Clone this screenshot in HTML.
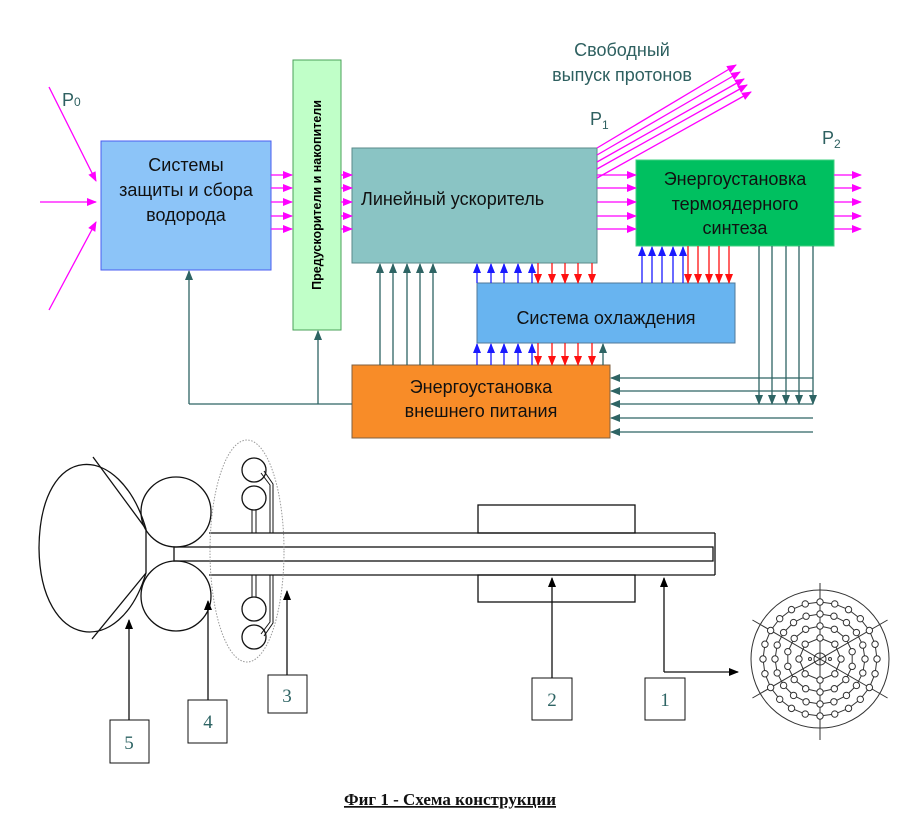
<!DOCTYPE html>
<html><head><meta charset="utf-8"><style>
html,body{margin:0;padding:0;background:#fff}
svg{display:block}
text{font-family:"Liberation Sans","DejaVu Sans",sans-serif}
text.serif{font-family:"Liberation Serif",serif}
</style></head><body>
<svg id="s" width="919" height="835" viewBox="0 0 919 835" xmlns="http://www.w3.org/2000/svg">
<defs>
<marker id="mm" markerWidth="10" markerHeight="10" refX="9" refY="5" orient="auto" markerUnits="userSpaceOnUse"><path d="M0,1 L10,5 L0,9 z" fill="#ff00ff"/></marker>
<marker id="mt" markerWidth="10" markerHeight="10" refX="9" refY="5" orient="auto" markerUnits="userSpaceOnUse"><path d="M0,1 L10,5 L0,9 z" fill="#2e6464"/></marker>
<marker id="mb" markerWidth="10" markerHeight="10" refX="9" refY="5" orient="auto" markerUnits="userSpaceOnUse"><path d="M0,1 L10,5 L0,9 z" fill="#1a1aff"/></marker>
<marker id="mr" markerWidth="10" markerHeight="10" refX="9" refY="5" orient="auto" markerUnits="userSpaceOnUse"><path d="M0,1 L10,5 L0,9 z" fill="#ff1010"/></marker>
<marker id="mk" markerWidth="10" markerHeight="10" refX="9" refY="5" orient="auto" markerUnits="userSpaceOnUse"><path d="M0,1 L10,5 L0,9 z" fill="#000"/></marker>
</defs>

<rect x="101" y="141" width="170" height="129" fill="#8cc4f8" stroke="#4a5cf0" stroke-width="1"/>
<rect x="293" y="60" width="48" height="270" fill="#c0ffc8" stroke="#4aa058" stroke-width="1"/>
<rect x="352" y="148" width="245" height="115" fill="#8ac4c4" stroke="#5a8a8a" stroke-width="1"/>
<rect x="636" y="160" width="198" height="86" fill="#00c060" stroke="#40d080" stroke-width="1"/>
<rect x="477" y="283" width="258" height="60" fill="#68b4f0" stroke="#507898" stroke-width="1"/>
<rect x="352" y="365" width="258" height="73" fill="#f88c28" stroke="#806040" stroke-width="1"/>

<g id="arrows"></g>

<g font-size="18" fill="#111" text-anchor="middle">
<text x="186" y="171">Системы</text>
<text x="186" y="196">защиты и сбора</text>
<text x="186" y="221">водорода</text>
<text x="361" y="205" text-anchor="start">Линейный ускоритель</text>
<text x="735" y="185">Энергоустановка</text>
<text x="735" y="210">термоядерного</text>
<text x="735" y="234">синтеза</text>
<text x="606" y="324">Система охлаждения</text>
<text x="481" y="393">Энергоустановка</text>
<text x="481" y="417">внешнего питания</text>
</g>
<text transform="translate(321,195) rotate(-90)" font-size="12.5" font-weight="bold" text-anchor="middle" fill="#000">Предускорители и накопители</text>
<g fill="#2e6060" font-size="18" text-anchor="middle">
<text x="622" y="56">Свободный</text>
<text x="622" y="81">выпуск протонов</text>
</g>
<g fill="#2e6060" font-size="18">
<text x="62" y="106">P<tspan font-size="12">0</tspan></text>
<text x="590" y="125">P<tspan font-size="12" dy="4">1</tspan></text>
<text x="822" y="144">P<tspan font-size="12" dy="4">2</tspan></text>
</g>

<g fill="none" stroke="#111" stroke-width="1.3">
<path d="M146,529 C120,440 40,440 39,548 C40,650 120,660 146,573"/>
<line x1="93" y1="457" x2="146" y2="529"/>
<line x1="92" y1="639" x2="146" y2="573"/>
<line x1="146" y1="529" x2="146" y2="573"/>
<circle cx="176" cy="512" r="35"/>
<circle cx="176" cy="596" r="35"/>
<line x1="209" y1="533" x2="715" y2="533"/>
<line x1="209" y1="575" x2="715" y2="575"/>
<line x1="715" y1="533" x2="715" y2="575"/>
<rect x="174" y="547" width="539" height="14"/>
<rect x="478" y="505" width="157" height="28"/>
<rect x="478" y="575" width="157" height="27"/>
<circle cx="254" cy="470" r="12"/>
<circle cx="254" cy="498" r="12"/>
<circle cx="254" cy="609" r="12"/>
<circle cx="254" cy="637" r="12"/>
<g stroke-width="1">
<line x1="252" y1="510" x2="252" y2="533"/><line x1="256" y1="510" x2="256" y2="533"/>
<line x1="252" y1="575" x2="252" y2="597"/><line x1="256" y1="575" x2="256" y2="597"/>
<path d="M261,473 L270,485 L270,533 M264,471 L273,484 L273,533"/>
<path d="M261,634 L270,622 L270,575 M264,636 L273,623 L273,575"/>
</g>
<rect x="110" y="720" width="39" height="43" stroke-width="1"/>
<rect x="188" y="700" width="39" height="43" stroke-width="1"/>
<rect x="268" y="675" width="39" height="38" stroke-width="1"/>
<rect x="532" y="678" width="40" height="42" stroke-width="1"/>
<rect x="645" y="678" width="40" height="42" stroke-width="1"/>
<line x1="129" y1="720" x2="129" y2="620" marker-end="url(#mk)"/>
<line x1="208" y1="700" x2="208" y2="601" marker-end="url(#mk)"/>
<line x1="287" y1="675" x2="287" y2="591" marker-end="url(#mk)"/>
<line x1="552" y1="678" x2="552" y2="578" marker-end="url(#mk)"/>
<line x1="664" y1="672" x2="664" y2="578" marker-end="url(#mk)"/>
<polyline points="664,672 738,672" marker-end="url(#mk)"/>
</g>
<ellipse cx="247" cy="551" rx="37" ry="111" fill="none" stroke="#999" stroke-width="1" stroke-dasharray="1.5,1.5"/>
<g font-size="19" fill="#2e6464" text-anchor="middle">
<text class="serif" x="129" y="749">5</text><text class="serif" x="208" y="728">4</text><text class="serif" x="287" y="702">3</text>
<text class="serif" x="552" y="706">2</text><text class="serif" x="665" y="706">1</text>
</g>
<g id="disc" fill="none" stroke="#333" stroke-width="1"></g>
<text class="serif" x="450" y="805" font-weight="bold" font-size="17" text-anchor="middle" text-decoration="underline" fill="#111">Фиг 1 - Схема конструкции</text>
</svg>
<script>
var NS="http://www.w3.org/2000/svg";
var g=document.getElementById("arrows");
function L(x1,y1,x2,y2,c,m,w){var l=document.createElementNS(NS,"line");l.setAttribute("x1",x1);l.setAttribute("y1",y1);l.setAttribute("x2",x2);l.setAttribute("y2",y2);l.setAttribute("stroke",c);l.setAttribute("stroke-width",w||1.3);if(m)l.setAttribute("marker-end","url(#"+m+")");g.appendChild(l);}
var M="#ff00ff",T="#2e6464",B="#1a1aff",R="#ff1010";
L(49,87,96,181,M,"mm");L(40,202,96,202,M,"mm");L(49,310,96,222,M,"mm");
var ys=[175,188,202,216,229];
ys.forEach(function(y){L(271,y,292,y,M,"mm");L(341,y,352,y,M,"mm");L(597,y,636,y,M,"mm");L(834,y,861,y,M,"mm");});
var s=[148,155,162,169,178],e=[[736,65],[740,72],[744,79],[747,85],[751,92]];
for(var i=0;i<5;i++)L(597,s[i],e[i][0],e[i][1],M,"mm");
L(352,404,189,404,T);L(189,404,189,271,T,"mt");L(318,404,318,331,T,"mt");
[380,393,407,420,433].forEach(function(x){L(x,365,x,264,T,"mt");});
[477,491,504,518,532].forEach(function(x){L(x,283,x,264,B,"mb");L(x,365,x,344,B,"mb");});
[538,552,565,578,592].forEach(function(x){L(x,263,x,283,R,"mr");L(x,343,x,365,R,"mr");});
L(603,365,603,344,T,"mt");
[642,652,662,673,683].forEach(function(x){L(x,283,x,247,B,"mb");});
[688,698,709,719,729].forEach(function(x){L(x,246,x,283,R,"mr");});
[759,772,786,799,813].forEach(function(x){L(x,246,x,404,T,"mt");});
[378,391,404,418,432].forEach(function(y){L(813,y,611,y,T,"mt");});
var d=document.getElementById("disc"),cx=820,cy=659;
function C(x,y,r){var c=document.createElementNS(NS,"circle");c.setAttribute("cx",x);c.setAttribute("cy",y);c.setAttribute("r",r);d.appendChild(c);}
function DL(x1,y1,x2,y2){var l=document.createElementNS(NS,"line");l.setAttribute("x1",x1);l.setAttribute("y1",y1);l.setAttribute("x2",x2);l.setAttribute("y2",y2);d.appendChild(l);}
C(cx,cy,69);C(cx,cy,6);C(cx-10,cy,1.5);C(cx+10,cy,1.5);
DL(cx,583,cx,740);
[30,150].forEach(function(a){var r=a*Math.PI/180,dx=Math.cos(r)*78,dy=Math.sin(r)*78;DL(cx-dx,cy-dy,cx+dx,cy+dy);});
[[57,24],[45,20],[33,14],[21,8]].forEach(function(p){var r=p[0],n=p[1];
 var pts=[];for(var k=0;k<n;k++){var a=k*2*Math.PI/n;pts.push([cx+r*Math.sin(a),cy-r*Math.cos(a)]);}
 var pl=document.createElementNS(NS,"polygon");pl.setAttribute("points",pts.map(function(q){return q.join(",")}).join(" "));d.appendChild(pl);
 pts.forEach(function(q){var c=document.createElementNS(NS,"circle");c.setAttribute("cx",q[0]);c.setAttribute("cy",q[1]);c.setAttribute("r",3.2);c.setAttribute("fill","#fff");d.appendChild(c);});
});
</script>
</body></html>
